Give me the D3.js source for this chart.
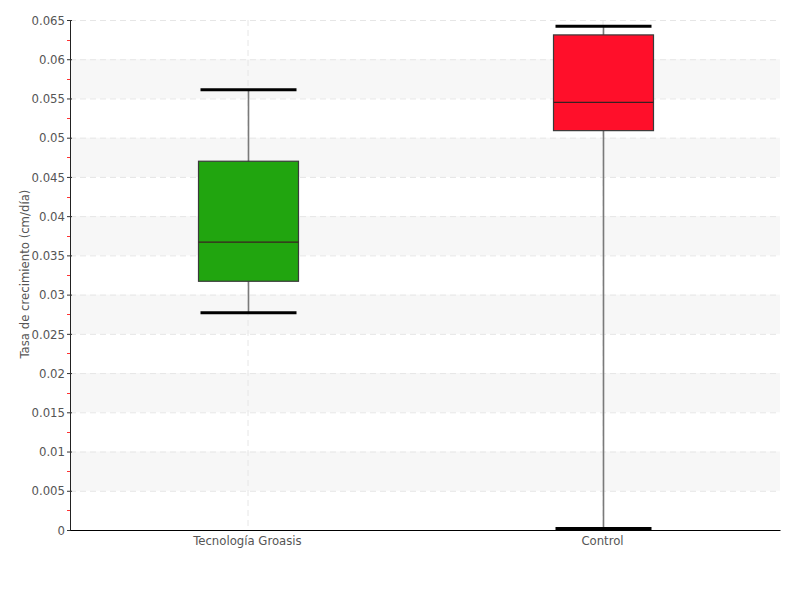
<!DOCTYPE html>
<html><head><meta charset="utf-8">
<script src="https://cdn.jsdelivr.net/npm/d3@7"></script>
<style>body{margin:0;background:#fff}svg{display:block}</style>
</head><body><svg id="c" width="800" height="600"></svg>
<script>
const categories = ["Tecnología Groasis", "Control"];
const whiskerLow = [0.0277, 0.0002];
const q1 = [0.0317, 0.0509];
const median = [0.0367, 0.0545];
const q3 = [0.0470, 0.0631];
const whiskerHigh = [0.0561, 0.0642];
const colors = ["#21a50f", "#ff0f2a"];
const yTicks = [0,0.005,0.01,0.015,0.02,0.025,0.03,0.035,0.04,0.045,0.05,0.055,0.06,0.065];
const yTickLabels = ["0","0.005","0.01","0.015","0.02","0.025","0.03","0.035","0.04","0.045","0.05","0.055","0.06","0.065"];

const svg = d3.select("#c");
const L = 70, R = 780, T = 20, B = 530;
const font = "'DejaVu Sans Condensed', sans-serif";
const x = d3.scaleBand().domain(categories).range([L, R]);
const y = d3.scaleLinear().domain([0, 0.065]).range([B, T]);

// alternating bands
for (let i = 0; i < yTicks.length - 1; i++) {
  if (i % 2 === 1) {
    svg.append("rect").attr("x", L).attr("width", R - L)
      .attr("y", y(yTicks[i + 1])).attr("height", y(yTicks[i]) - y(yTicks[i + 1]))
      .attr("fill", "#f7f7f7");
  }
}
// horizontal grid
svg.append("g").selectAll("line").data(yTicks.slice(1)).join("line")
  .attr("x1", L).attr("x2", R).attr("y1", d => y(d) + 0.5).attr("y2", d => y(d) + 0.5)
  .attr("stroke", "#e6e6e6").attr("stroke-dasharray", "6,4");
// vertical grid
svg.append("g").selectAll("line").data(categories).join("line")
  .attr("x1", d => x(d) + x.bandwidth() / 2 + 0.5).attr("x2", d => x(d) + x.bandwidth() / 2 + 0.5)
  .attr("y1", T).attr("y2", B).attr("stroke", "#e6e6e6").attr("stroke-dasharray", "6,4");

// boxes
const bw = 100, cw = 96;
categories.forEach((c, i) => {
  const cx = Math.round(x(c) + x.bandwidth() / 2) + 0.5;
  svg.append("line").attr("x1", cx).attr("x2", cx)
    .attr("y1", y(whiskerLow[i])).attr("y2", y(whiskerHigh[i]))
    .attr("stroke", "#7a7a7a").attr("stroke-width", 1.6);
  svg.append("rect").attr("x", cx - bw / 2).attr("width", bw)
    .attr("y", y(q3[i])).attr("height", y(q1[i]) - y(q3[i]))
    .attr("fill", colors[i]).attr("stroke", "#3a3a3a").attr("stroke-width", 1.2);
  svg.append("line").attr("x1", cx - bw / 2).attr("x2", cx + bw / 2)
    .attr("y1", y(median[i])).attr("y2", y(median[i]))
    .attr("stroke", "#3a2020").attr("stroke-width", 1.2);
  [whiskerLow[i], whiskerHigh[i]].forEach(v => {
    svg.append("line").attr("x1", cx - cw / 2).attr("x2", cx + cw / 2)
      .attr("y1", y(v)).attr("y2", y(v)).attr("stroke", "#000").attr("stroke-width", 3);
  });
});

// y axis
const ya = svg.append("g").attr("transform", `translate(${L},0)`)
  .call(d3.axisLeft(y).tickValues(yTicks).tickFormat((d, i) => yTickLabels[i]).tickSize(3).tickSizeOuter(0));
ya.select(".domain").attr("stroke", "#222");
ya.selectAll(".tick line").attr("stroke", "#333").attr("x2", 2).attr("x1", -3);
ya.selectAll(".tick text").attr("font-family", font).attr("font-size", 13).attr("fill", "#555").attr("x", -5);
// minor ticks
const minor = yTicks.slice(0, -1).map((d, i) => (d + yTicks[i + 1]) / 2);
svg.append("g").selectAll("line").data(minor).join("line")
  .attr("x1", L - 3).attr("x2", L).attr("y1", d => Math.round(y(d)) + 0.5).attr("y2", d => Math.round(y(d)) + 0.5)
  .attr("stroke", "#f33");

// x axis
const xa = svg.append("g").attr("transform", `translate(0,${B})`)
  .call(d3.axisBottom(x).tickSize(0).tickSizeOuter(0));
xa.select(".domain").attr("stroke", "#000");
xa.selectAll(".tick text").attr("font-family", font).attr("font-size", 13).attr("fill", "#555").attr("dy", "0.9em");

// y title
svg.append("text").attr("transform", `translate(29,${(T + B) / 2 - 1}) rotate(-90)`)
  .attr("text-anchor", "middle").attr("font-family", font).attr("font-size", 13).attr("fill", "#555")
  .text("Tasa de crecimiento (cm/día)");
</script></body></html>
